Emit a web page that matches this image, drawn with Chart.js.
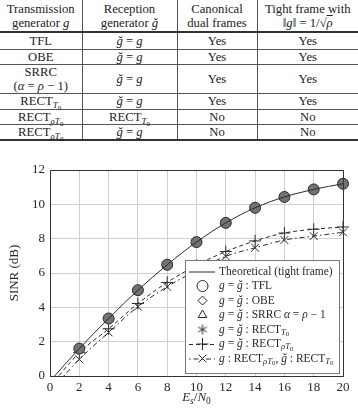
<!DOCTYPE html>
<html>
<head>
<meta charset="utf-8">
<script src="https://cdn.jsdelivr.net/npm/chart.js@4.4.1/dist/chart.umd.min.js"></script>
<style>
  html, body { margin: 0; padding: 0; background: #fff; }
  body { width: 358px; height: 412px; position: relative; overflow: hidden; font-family: "Liberation Serif", "Times New Roman", serif; color: #222; }
  #tbl { position: absolute; left: 0; top: 0; width: 358px; border-collapse: collapse; table-layout: fixed; font-family: "Liberation Serif", "Times New Roman", serif; font-size: 12.7px; line-height: 14px; }
  #tbl th, #tbl td { padding: 0; text-align: center; vertical-align: middle; font-weight: normal; border-bottom: 1px solid #555; }
  #tbl th + th, #tbl td + td { border-left: 1px solid #555; }
  #tbl tr.hd th { border-bottom: 2px solid #333; }
  #tbl tr.last td { border-bottom: 2px solid #333; }
  #tbl sub { font-size: 9px; vertical-align: -3px; line-height: 0; }
  #tbl sub sub { font-size: 7px; vertical-align: -2px; }
  .ov { text-decoration: overline; }
  #wrap { position: absolute; left: 0; top: 145px; width: 358px; height: 267px; }
</style>
</head>
<body>
<table id="tbl">
  <colgroup><col style="width:82px"><col style="width:95px"><col style="width:80px"><col style="width:101px"></colgroup>
  <tr class="hd" style="height:32px">
    <th>Transmission<br>generator <i>g</i></th>
    <th>Reception<br>generator <i>ğ</i></th>
    <th>Canonical<br>dual frames</th>
    <th>Tight frame with<br>‖<i>g</i>‖ = 1/√<span class="ov"><i>ρ</i></span></th>
  </tr>
  <tr style="height:17px"><td>TFL</td><td><i>ğ</i> = <i>g</i></td><td>Yes</td><td>Yes</td></tr>
  <tr style="height:15px"><td>OBE</td><td><i>ğ</i> = <i>g</i></td><td>Yes</td><td>Yes</td></tr>
  <tr style="height:29px"><td>SRRC<br>(<i>α</i> = <i>ρ</i> − 1)</td><td><i>ğ</i> = <i>g</i></td><td>Yes</td><td>Yes</td></tr>
  <tr style="height:16px"><td>RECT<sub><i>T</i><sub>0</sub></sub></td><td><i>ğ</i> = <i>g</i></td><td>Yes</td><td>Yes</td></tr>
  <tr style="height:15px"><td>RECT<sub><i>ρT</i><sub>0</sub></sub></td><td>RECT<sub><i>T</i><sub>0</sub></sub></td><td>No</td><td>No</td></tr>
  <tr class="last" style="height:16px"><td>RECT<sub><i>ρT</i><sub>0</sub></sub></td><td><i>ğ</i> = <i>g</i></td><td>No</td><td>No</td></tr>
</table>
<div id="wrap"><canvas id="chart" width="358" height="267"></canvas></div>
<script>
// valores (Es/N0 en dB, SINR en dB)
const esN0 = [0, 2, 4, 6, 8, 10, 12, 14, 16, 18, 20];
const tightFrameSINR = [-0.3, 1.6, 3.35, 5.0, 6.48, 7.8, 8.92, 9.8, 10.43, 10.87, 11.2];
const rectRhoT0SINR = [-0.6, 1.36, 2.75, 4.22, 5.45, 6.45, 7.25, 7.87, 8.33, 8.55, 8.68];
const rectMixedSINR = [-0.9, 0.97, 2.54, 4.04, 5.2, 6.15, 6.97, 7.47, 7.92, 8.15, 8.37];
const xTicks = [0, 2, 4, 6, 8, 10, 12, 14, 16, 18, 20];
const yTicks = [0, 1, 2, 3, 4, 5, 6, 7, 8, 9, 10, 11, 12];

const FONT = '"Liberation Serif", "Times New Roman", serif';
const INK = '#2a2a2a';

function toPoints(values) {
  return esN0.map(function (x, i) { return { x: x, y: values[i] }; });
}

// asterisco de 6 brazos para RECT_T0
function makeAsterisk(r) {
  const c = document.createElement('canvas');
  c.width = c.height = 2 * r + 2;
  const g = c.getContext('2d');
  const cx = r + 1, cy = r + 1;
  g.strokeStyle = INK;
  g.lineWidth = 1;
  g.beginPath();
  [90, 30, 150].forEach(function (deg) {
    const a = deg * Math.PI / 180;
    g.moveTo(cx + r * Math.cos(a), cy - r * Math.sin(a));
    g.lineTo(cx - r * Math.cos(a), cy + r * Math.sin(a));
  });
  g.stroke();
  return c;
}
const asterisk = makeAsterisk(5);

// sin marcador en Es/N0 = 0
const markerRadius = function (r) { return function (ctx) { return ctx.dataIndex === 0 ? 0 : r; }; };
const wideClip = { left: 0, top: 8, right: 8, bottom: 0 };

// leyenda: trozos de texto [texto, estilo]
const legendLabels = [
  [['Theoretical (tight frame)']],
  [['g', 'i'], [' = '], ['ğ', 'i'], [' : TFL']],
  [['g', 'i'], [' = '], ['ğ', 'i'], [' : OBE']],
  [['g', 'i'], [' = '], ['ğ', 'i'], [' : SRRC '], ['α', 'i'], [' = '], ['ρ', 'i'], [' − 1']],
  [['g', 'i'], [' = '], ['ğ', 'i'], [' : RECT'], ['T', 's'], ['0', 'ss']],
  [['g', 'i'], [' = '], ['ğ', 'i'], [' : RECT'], ['ρT', 's'], ['0', 'ss']],
  [['g', 'i'], [' : RECT'], ['ρT', 's'], ['0', 'ss'], [', '], ['ğ', 'i'], [' : RECT'], ['T', 's'], ['0', 'ss']]
];

function drawRuns(ctx, runs, x, y, size) {
  runs.forEach(function (r) {
    const st = r[1] || '';
    let fs = size, dy = 0, it = st === 'i';
    if (st === 's') { fs = size * 0.75; dy = 3; it = true; }
    if (st === 'ss') { fs = size * 0.6; dy = 5; }
    ctx.font = (it ? 'italic ' : '') + fs + 'px ' + FONT;
    ctx.fillText(r[0], x, y + dy);
    x += ctx.measureText(r[0]).width;
  });
  return x;
}

const framePlugin = {
  id: 'frame',
  afterDraw: function (chart) {
    const ctx = chart.ctx;
    const ca = chart.chartArea;
    ctx.save();
    // marco del area de la grafica
    ctx.strokeStyle = '#333';
    ctx.lineWidth = 1;
    ctx.strokeRect(Math.round(ca.left) + 0.5, Math.round(ca.top) + 0.5, Math.round(ca.right - ca.left), Math.round(ca.bottom - ca.top));

    // caja de leyenda
    const bw = 154, bh = 113;
    const bx = Math.round(ca.right) - 4 - bw, by = Math.round(ca.bottom) - 3 - bh;
    ctx.fillStyle = '#fff';
    ctx.fillRect(bx, by, bw, bh);
    ctx.strokeStyle = '#777';
    ctx.strokeRect(bx + 0.5, by + 0.5, bw, bh);

    const sx = bx + 17.5;
    const styles = [null, 'circle', 'rectRot', 'triangle', asterisk, 'cross', 'crossRot'];
    const radii = [0, 5.5, 4.5, 5, 5, 6, 5.5];
    legendLabels.forEach(function (runs, i) {
      const y = by + 11.5 + i * 14.5;
      ctx.strokeStyle = INK;
      ctx.fillStyle = 'rgba(0,0,0,0)';
      ctx.lineWidth = 1;
      if (i === 0 || i === 5 || i === 6) {
        ctx.save();
        ctx.setLineDash(i === 0 ? [] : (i === 5 ? [4, 3] : [1.5, 3, 5, 3]));
        ctx.beginPath();
        ctx.moveTo(bx + 4, y + 0.5);
        ctx.lineTo(bx + 30, y + 0.5);
        ctx.stroke();
        ctx.restore();
      }
      if (styles[i]) {
        Chart.helpers.drawPoint(ctx, { pointStyle: styles[i], radius: radii[i], borderWidth: 1, rotation: 0 }, sx, y);
      }
      ctx.fillStyle = INK;
      ctx.textBaseline = 'middle';
      ctx.textAlign = 'left';
      drawRuns(ctx, runs, bx + 34, y, 11.5);
    });

    // titulo del eje x: Es/N0
    ctx.fillStyle = INK;
    ctx.textBaseline = 'middle';
    const parts = [
      { t: 'E', f: 'italic 13px ', dy: 0 },
      { t: 's', f: 'italic 9.5px ', dy: 3 },
      { t: '/', f: '13px ', dy: 0 },
      { t: 'N', f: 'italic 13px ', dy: 0 },
      { t: '0', f: '9.5px ', dy: 3 }
    ];
    let tw = 0;
    parts.forEach(function (p) { ctx.font = p.f + FONT; tw += ctx.measureText(p.t).width; });
    let tx = (ca.left + ca.right) / 2 - tw / 2;
    parts.forEach(function (p) {
      ctx.font = p.f + FONT;
      ctx.fillText(p.t, tx, 253 + p.dy);
      tx += ctx.measureText(p.t).width;
    });
    ctx.restore();
  }
};

new Chart(document.getElementById('chart').getContext('2d'), {
  type: 'line',
  data: {
    datasets: [
      {
        label: 'Theoretical (tight frame)',
        data: toPoints(tightFrameSINR),
        borderColor: INK, borderWidth: 1, pointRadius: 0,
        cubicInterpolationMode: 'monotone'
      },
      {
        label: 'TFL', data: toPoints(tightFrameSINR), showLine: false,
        pointStyle: 'circle', pointRadius: markerRadius(5.5), pointBorderWidth: 1,
        pointBorderColor: INK, pointBackgroundColor: '#727272', clip: false
      },
      {
        label: 'OBE', data: toPoints(tightFrameSINR), showLine: false,
        pointStyle: 'rectRot', pointRadius: markerRadius(4.5), pointBorderWidth: 1,
        pointBorderColor: '#111', pointBackgroundColor: 'rgba(0,0,0,0)', clip: false
      },
      {
        label: 'SRRC', data: toPoints(tightFrameSINR), showLine: false,
        pointStyle: 'triangle', pointRadius: markerRadius(5), pointBorderWidth: 1,
        pointBorderColor: '#111', pointBackgroundColor: 'rgba(0,0,0,0)', clip: false
      },
      {
        label: 'RECT T0', data: toPoints(tightFrameSINR), showLine: false,
        pointStyle: asterisk, pointRadius: markerRadius(5), clip: false
      },
      {
        label: 'RECT rhoT0', data: toPoints(rectRhoT0SINR),
        borderColor: INK, borderWidth: 1, borderDash: [4, 3],
        cubicInterpolationMode: 'monotone',
        pointStyle: 'cross', pointRadius: markerRadius(6), pointBorderWidth: 1,
        pointBorderColor: INK, clip: wideClip
      },
      {
        label: 'RECT rhoT0 / RECT T0', data: toPoints(rectMixedSINR),
        borderColor: INK, borderWidth: 1, borderDash: [5, 3, 1.5, 3],
        cubicInterpolationMode: 'monotone',
        pointStyle: 'crossRot', pointRadius: markerRadius(5.5), pointBorderWidth: 1,
        pointBorderColor: INK, clip: wideClip
      }
    ]
  },
  options: {
    responsive: false,
    animation: false,
    devicePixelRatio: 1,
    layout: { padding: { top: 25, right: 15, left: 0, bottom: 0 } },
    plugins: { legend: { display: false }, tooltip: { enabled: false } },
    scales: {
      x: {
        type: 'linear', min: 0, max: 20,
        afterFit: function (s) { s.height = 36; },
        afterBuildTicks: function (s) { s.ticks = xTicks.map(function (v) { return { value: v }; }); },
        grid: { color: '#cfcfcf', drawTicks: false },
        border: { display: false },
        ticks: { padding: 4, color: INK, font: { family: FONT, size: 13 } }
      },
      y: {
        min: 0, max: 12,
        afterFit: function (s) { s.width = 50; },
        afterBuildTicks: function (s) { s.ticks = yTicks.map(function (v) { return { value: v }; }); },
        grid: { color: '#cfcfcf', drawTicks: false },
        border: { display: false },
        ticks: { padding: 5, color: INK, font: { family: FONT, size: 13 } },
        title: { display: true, text: 'SINR (dB)', color: INK, padding: { top: 7, bottom: 0 }, font: { family: FONT, size: 13 } }
      }
    }
  },
  plugins: [framePlugin]
});
</script>
</body>
</html>
